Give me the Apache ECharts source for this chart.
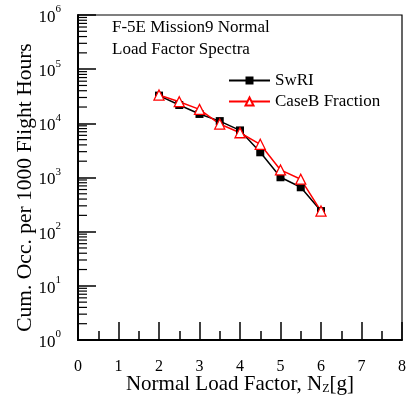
<!DOCTYPE html>
<html>
<head>
<meta charset="utf-8">
<script src="https://cdn.jsdelivr.net/npm/echarts@6/dist/echarts.min.js"></script>
<style>html,body{margin:0;padding:0;background:#fff}#c{width:412px;height:403px}</style>
</head>
<body>
<div id="c"></div>
<script>
const nz = [2, 2.5, 3, 3.5, 4, 4.5, 5, 5.5, 6];
const swri = [32500, 21800, 14900, 11000, 7400, 2920, 1010, 660, 240];
const caseB = [33300, 25100, 18100, 9700, 6700, 4100, 1380, 930, 240];
const xTicks = [0, 1, 2, 3, 4, 5, 6, 7, 8];
const yDecades = [0, 1, 2, 3, 4, 5, 6];
const titleLines = ['F-5E Mission9 Normal', 'Load Factor Spectra'];

const FONT = '"Liberation Serif", "Times New Roman", serif';
const minorY = [];
yDecades.slice(0, -1).forEach(d => { for (let m = 2; m <= 9; m++) minorY.push([xTicks[0], m * Math.pow(10, d)]); });

const chart = echarts.init(document.getElementById('c'), null, {renderer: 'canvas'});
chart.setOption({
  animation: false,
  backgroundColor: '#fff',
  textStyle: {fontFamily: FONT, color: '#000'},
  title: {
    text: titleLines.join('\n'),
    left: 107, top: 12,
    textStyle: {fontFamily: FONT, fontSize: 17, fontWeight: 'normal', color: '#000', lineHeight: 22}
  },
  legend: {
    data: ['SwRI', 'CaseB Fraction'],
    orient: 'vertical',
    left: 223, top: 67,
    itemWidth: 41, itemHeight: 10, itemGap: 4,
    textStyle: {fontFamily: FONT, fontSize: 17, color: '#000', lineHeight: 17}
  },
  grid: {left: 78, right: 10, top: 15, bottom: 63, outerBoundsMode: 'none', containLabel: false,
         show: true, borderColor: '#000', borderWidth: 1.2, backgroundColor: 'transparent'},
  xAxis: {
    type: 'value', min: xTicks[0], max: xTicks[xTicks.length - 1], interval: 1,
    axisLine: {lineStyle: {color: '#000', width: 2}},
    axisTick: {inside: true, length: 18, lineStyle: {color: '#000', width: 1.5}},
    minorTick: {show: true, splitNumber: 2, length: 9, lineStyle: {color: '#000', width: 1.5}},
    splitLine: {show: false},
    axisLabel: {margin: 19, fontFamily: FONT, fontSize: 16, color: '#000'},
    name: '{a|Normal Load Factor, N}{s|Z}{a|[g]}',
    nameLocation: 'middle', nameGap: 33, nameMoveOverlap: false,
    nameTextStyle: {
      fontFamily: FONT, fontSize: 21,
      rich: {
        a: {fontFamily: FONT, fontSize: 21, color: '#000', verticalAlign: 'bottom', lineHeight: 22},
        s: {fontFamily: FONT, fontSize: 12, color: '#000', verticalAlign: 'bottom', lineHeight: 6}
      }
    }
  },
  yAxis: {
    type: 'log', logBase: 10, min: Math.pow(10, yDecades[0]), max: Math.pow(10, yDecades[yDecades.length - 1]),
    splitNumber: 6,
    axisLine: {lineStyle: {color: '#000', width: 2}},
    axisTick: {inside: true, length: 18, lineStyle: {color: '#000', width: 1.5}},
    splitLine: {show: false},
    axisLabel: {
      margin: 17,
      formatter: v => '{b|10}{s|' + Math.round(Math.log10(v)) + '}',
      rich: {
        b: {fontFamily: FONT, fontSize: 17, color: '#000', verticalAlign: 'bottom', lineHeight: 22},
        s: {fontFamily: FONT, fontSize: 11, color: '#000', verticalAlign: 'top', lineHeight: 20}
      }
    },
    name: 'Cum. Occ. per 1000 Flight Hours',
    nameLocation: 'middle', nameGap: 42, nameMoveOverlap: false,
    nameTextStyle: {fontFamily: FONT, fontSize: 21.5, color: '#000', padding: [0, 20, 0, 0]}
  },
  series: [
    {
      type: 'custom', name: 'minorY', silent: true, clip: false, z: 5,
      data: minorY,
      renderItem: (params, api) => {
        const p = api.coord([api.value(0), api.value(1)]);
        return {type: 'line', shape: {x1: p[0], y1: p[1], x2: p[0] + 9, y2: p[1]}, style: {stroke: '#000', lineWidth: 1.2}};
      }
    },
    {
      name: 'SwRI', type: 'line',
      data: nz.map((x, i) => [x, swri[i]]),
      symbol: 'rect', symbolSize: 8,
      lineStyle: {color: '#000', width: 1.5},
      itemStyle: {color: '#000', borderColor: '#000', borderWidth: 0}
    },
    {
      name: 'CaseB Fraction', type: 'line',
      data: nz.map((x, i) => [x, caseB[i]]),
      symbol: 'triangle', symbolSize: 10,
      lineStyle: {color: '#ff0000', width: 1.5},
      itemStyle: {color: '#fff', borderColor: '#ff0000', borderWidth: 1.3}
    }
  ]
});
</script>
</body>
</html>
